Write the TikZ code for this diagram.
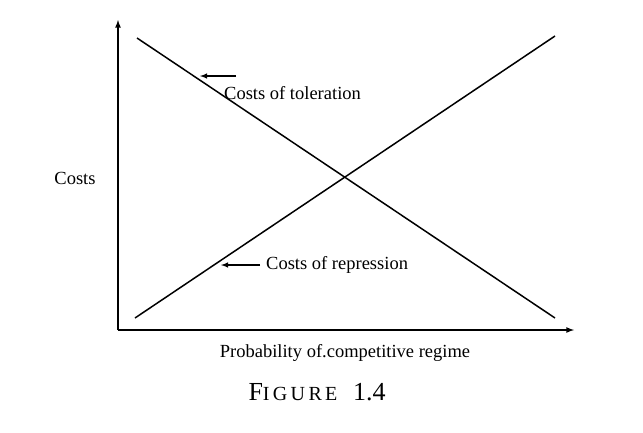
\documentclass[tikz,border=0pt]{standalone}
\usepackage{fontspec}
\setmainfont{Liberation Serif}
\begin{document}
\begin{tikzpicture}[x=1pt,y=-1pt,
  axis/.style={line width=1.6pt,-latex},
  curve/.style={line width=1.5pt},
  lab/.style={font=\fontsize{18.5}{21}\selectfont},
  pointer/.style={line width=1.4pt,-latex}]
\useasboundingbox (0,0) rectangle (643,432);
\coordinate (o) at (118,330);
\coordinate (ytop) at (118,20);
\coordinate (xend) at (574,330);
\draw[axis] (o) -- (ytop);
\draw[axis] (o) -- (xend);
\coordinate (t1) at (137,38);
\coordinate (t2) at (555,318);
\coordinate (r1) at (135,318);
\coordinate (r2) at (555,36);
\draw[curve] (t1) -- (t2);
\draw[curve] (r1) -- (r2);
\node[lab,anchor=west,inner sep=0pt] (tol) at (224,93) {Costs of toleration};
\coordinate (ta) at (236,76);
\coordinate (tb) at (200,76);
\draw[pointer] (ta) -- (tb);
\node[lab,anchor=west,inner sep=0pt] (rep) at (266,265) {Costs of repression};
\coordinate (ra) at (260,265);
\coordinate (rb) at (221,265);
\draw[pointer] (ra) -- (rb);
\node[lab] (costs) at (75,178) {Costs};
\node[lab] (xl) at (345,353) {Probability of.competitive regime};
\node[font=\fontsize{26}{28}\selectfont] (fig) at (317,392) {F{\fontsize{20}{22}\selectfont I\,G\,U\,R\,E}\hspace{0.6em}1.4};
\end{tikzpicture}
\end{document}
